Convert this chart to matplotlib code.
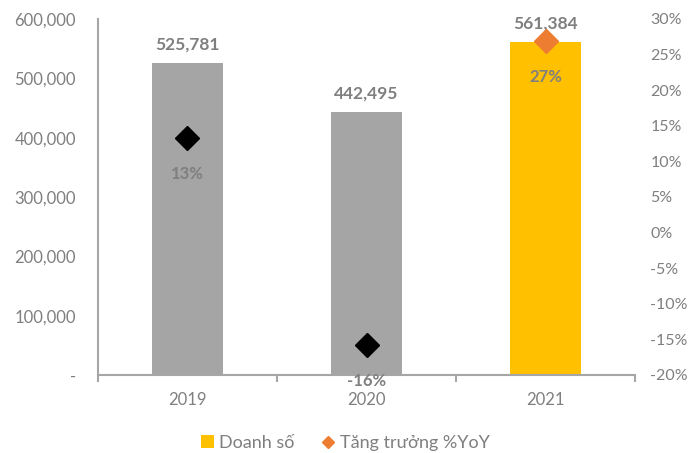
import matplotlib
matplotlib.use('Agg')
import matplotlib.pyplot as plt
from matplotlib.ticker import FuncFormatter
from matplotlib.lines import Line2D
from matplotlib.patches import Patch

# Dữ liệu
nam = ['2019', '2020', '2021']
doanh_so = [525781, 442495, 561384]
tang_truong = [13.3, -15.8, 26.9]
nhan_tang_truong = ['13%', '-16%', '27%']

mau_cot = ['#a5a5a5', '#a5a5a5', '#ffc000']
mau_diem = ['#000000', '#000000', '#ed7d31']
xam_chu = '#7f7f7f'
xam_truc = '#a6a6a6'

plt.rcParams['font.family'] = ['Lato', 'DejaVu Sans']

fig = plt.figure(figsize=(6.91, 4.53), dpi=100)
ax = fig.add_axes([98 / 691, 1 - 375 / 453, (635 - 98) / 691, (375 - 19) / 453])
ax2 = ax.twinx()

x = list(range(len(nam)))
bars = ax.bar(x, doanh_so, width=0.4, color=mau_cot, zorder=2)
ax.set_xlim(-0.5, 2.5)
ax.set_ylim(0, 600000)
ax.set_yticks(range(0, 600001, 100000))
ax.yaxis.set_major_formatter(FuncFormatter(lambda v, p: '-' if v == 0 else f'{int(v):,}'))
ax.set_xticks(x)
ax.set_xticklabels(nam)
ax.set_xticks([-0.5, 0.5, 1.5, 2.5], minor=True)

ax.tick_params(axis='y', length=0, labelsize=12, labelcolor=xam_chu, pad=16)
ax.tick_params(axis='x', which='major', length=0, labelsize=12, labelcolor=xam_chu, pad=12)
ax.tick_params(axis='x', which='minor', length=5, color=xam_truc, width=1.5)

for s in ['top', 'right']:
    ax.spines[s].set_visible(False)
for s in ['left', 'bottom']:
    ax.spines[s].set_color(xam_truc)
    ax.spines[s].set_linewidth(1.5)
for s in ax2.spines.values():
    s.set_visible(False)

for b, v in zip(bars, doanh_so):
    ax.text(b.get_x() + b.get_width() / 2, v + 18000, f'{v:,}', ha='center', va='bottom',
            fontsize=12.5, fontweight='bold', color=xam_chu, zorder=5)

# Tăng trưởng
ax2.set_ylim(-20, 30)
ax2.set_yticks(range(-20, 31, 5))
ax2.yaxis.set_major_formatter(FuncFormatter(lambda v, p: f'{int(v)}%'))
ax2.tick_params(axis='y', length=0, labelsize=11.5, labelcolor=xam_chu, pad=11)
for xi, g, c, lb in zip(x, tang_truong, mau_diem, nhan_tang_truong):
    ax2.plot(xi, g, marker='D', markersize=12, color=c, linestyle='none', zorder=4)
    ax2.text(xi, g - 3.9, lb, ha='center', va='top', fontsize=12, fontweight='bold',
             color=xam_chu, zorder=5)

# Chú giải
handles = [
    Patch(facecolor='#ffc000', edgecolor='none'),
    Line2D([], [], marker='D', color='#ed7d31', linestyle='none', markersize=6),
]
fig.legend(handles, ['Doanh số', 'Tăng trưởng %YoY'], loc='center',
           bbox_to_anchor=(0.5, 10 / 453), ncol=2, frameon=False, fontsize=13,
           labelcolor=xam_chu, handlelength=0.7, handleheight=0.7, handletextpad=0.3,
           columnspacing=1.5)

plt.savefig('out.png', dpi=100)
plt.close()
